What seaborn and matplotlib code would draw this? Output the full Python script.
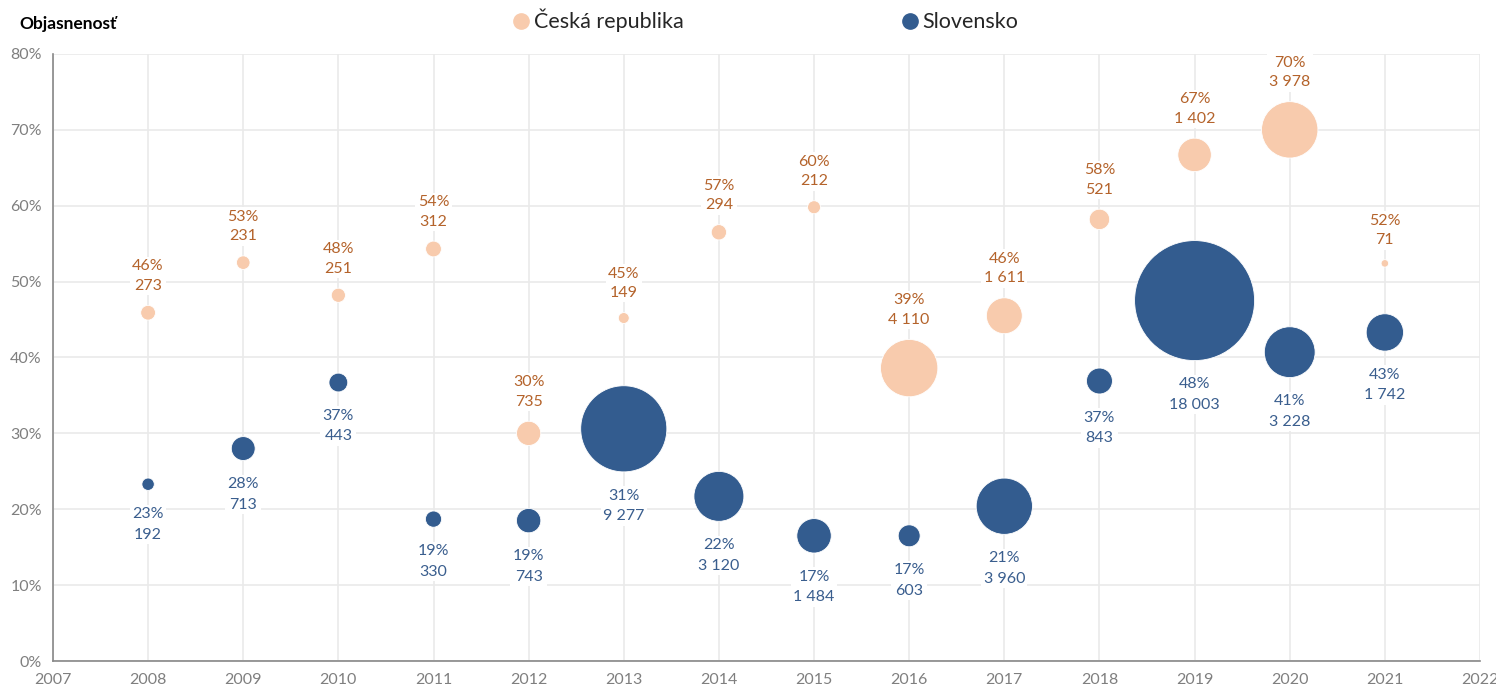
import matplotlib
matplotlib.use("Agg")
import matplotlib.pyplot as plt
from matplotlib.lines import Line2D
import seaborn as sns
import pandas as pd
import numpy as np

# data
years = list(range(2008, 2022))
cz_pct = [45.9, 52.5, 48.2, 54.3, 30.0, 45.2, 56.5, 59.8, 38.6, 45.5, 58.2, 66.7, 70.0, 52.4]
cz_lbl = [46, 53, 48, 54, 30, 45, 57, 60, 39, 46, 58, 67, 70, 52]
cz_cnt = [273, 231, 251, 312, 735, 149, 294, 212, 4110, 1611, 521, 1402, 3978, 71]
sk_pct = [23.3, 28.0, 36.7, 18.7, 18.5, 30.6, 21.7, 16.5, 16.5, 20.4, 36.9, 47.5, 40.7, 43.3]
sk_lbl = [23, 28, 37, 19, 19, 31, 22, 17, 17, 21, 37, 48, 41, 43]
sk_cnt = [192, 713, 443, 330, 743, 9277, 3120, 1484, 603, 3960, 843, 18003, 3228, 1742]

cz_color = "#F8CBAD"
sk_color = "#335C8F"
cz_text = "#B4632B"
sk_text = "#3A5E8E"

df = pd.concat([
    pd.DataFrame({"rok": years, "obj": cz_pct, "pocet": cz_cnt, "krajina": "Česká republika"}),
    pd.DataFrame({"rok": years, "obj": sk_pct, "pocet": sk_cnt, "krajina": "Slovensko"}),
])

sns.set_style("white")
plt.rcParams["font.family"] = ["Lato", "DejaVu Sans"]

fig = plt.figure(figsize=(14.96, 6.91), dpi=100)
ax = fig.add_axes([0.0354, 0.0434, 0.9539, 0.8785])

# bubble area proportional to count (largest ~120 px across)
max_s = 7465
sns.scatterplot(data=df, x="rok", y="obj", hue="krajina", size="pocet",
                palette={"Česká republika": cz_color, "Slovensko": sk_color},
                sizes=(0, max_s), size_norm=(0, max(sk_cnt)),
                linewidth=0.6, edgecolor="white", alpha=1, legend=False, ax=ax, zorder=3)

def fmt(n):
    return f"{n:,}".replace(",", " ")

def radius_pt(n):
    return np.sqrt(n / max(sk_cnt) * max_s) / 2

for x, p, l, n in zip(years, cz_pct, cz_lbl, cz_cnt):
    ax.annotate(f"{l}%\n{fmt(n)}", (x, p), xytext=(0, radius_pt(n) + 9),
                textcoords="offset points", ha="center", va="bottom", fontsize=11.5,
                color=cz_text, linespacing=1.5, zorder=2,
                bbox=dict(boxstyle="square,pad=0.15", fc="white", ec="none"))
for x, p, l, n in zip(years, sk_pct, sk_lbl, sk_cnt):
    ax.annotate(f"{l}%\n{fmt(n)}", (x, p), xytext=(0, -radius_pt(n) - 12),
                textcoords="offset points", ha="center", va="top", fontsize=11.5,
                color=sk_text, linespacing=1.6, zorder=2,
                bbox=dict(boxstyle="square,pad=0.15", fc="white", ec="none"))

ax.set_xlim(2007, 2022)
ax.set_ylim(0, 80)
ax.set_xticks(range(2007, 2023))
ax.set_yticks(range(0, 81, 10))
ax.set_yticklabels([f"{v}%" for v in range(0, 81, 10)])
ax.grid(True, color="#EAEAEA", linewidth=1.2, zorder=0)
ax.set_axisbelow(True)
ax.set_xlabel("")
ax.set_ylabel("")
for s in ["top", "right"]:
    ax.spines[s].set_visible(False)
for s in ["left", "bottom"]:
    ax.spines[s].set_color("#888888")
    ax.spines[s].set_linewidth(1.2)
ax.tick_params(axis="both", colors="#888888", labelcolor="#7F7F7F", labelsize=11.5,
               length=5, width=1.2, direction="out")
ax.tick_params(axis="y", pad=3)

fig.text(0.013, 0.965, "Objasnenosť", fontsize=12.5, fontweight="bold", color="black",
         ha="left", va="center")

handles = [Line2D([], [], marker="o", linestyle="", markersize=11, color=cz_color),
           Line2D([], [], marker="o", linestyle="", markersize=11, color=sk_color)]
fig.legend(handles, ["Česká republika", "Slovensko"], loc="center", ncol=2,
           bbox_to_anchor=(0.511, 0.97), frameon=False, fontsize=15.5,
           handletextpad=0.1, columnspacing=10.0, handlelength=1.0)

fig.savefig("out.png", dpi=100)
